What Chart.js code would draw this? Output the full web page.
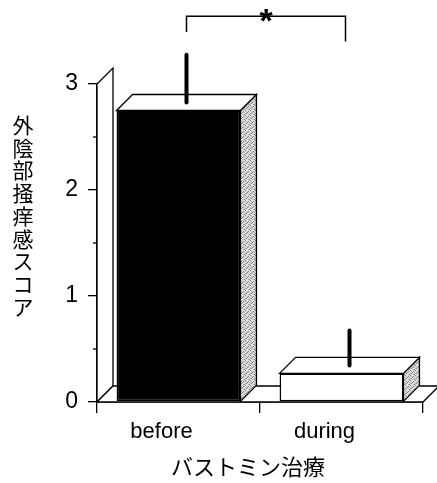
<!DOCTYPE html>
<html>
<head>
<meta charset="utf-8">
<script src="https://cdn.jsdelivr.net/npm/chart.js@4"></script>
<style>
  html, body { margin: 0; padding: 0; background: #fff; }
  #wrap { width: 437px; height: 483px; }
</style>
</head>
<body>
<div id="wrap"><canvas id="itchChart" width="437" height="483"></canvas></div>
<script>
const categories = ["before", "during"];
const scores = [2.75, 0.27];
const scoreErrors = [0.45, 0.33];
const yTicks = [0, 1, 2, 3];
const yMinorTicks = [0.5, 1.5, 2.5];
const yTitle = "外陰部掻痒感スコア";
const xTitle = "バストミン治療";
// significance bracket: leg ends and top, in score units
const bracketLegs = [3.49, 3.40];
const bracketTop = 3.64;
const bracketMark = "*";

const DEPTH_X = 16;
const DEPTH_Y = -16;
const LATIN = "'Liberation Sans', Arial, sans-serif";
const CJK = "'Noto Sans CJK JP', 'Noto Sans', sans-serif";

function stipple(ctx) {
  const c = document.createElement("canvas");
  c.width = 5; c.height = 5;
  const p = c.getContext("2d");
  p.fillStyle = "#e2e2e2";
  p.fillRect(0, 0, 5, 5);
  p.fillStyle = "#7a7a7a";
  [[0, 0], [3, 1], [1, 3], [4, 4], [2, 2]].forEach(([x, y]) => p.fillRect(x, y, 1, 1));
  p.fillStyle = "#b0b0b0";
  [[4, 2], [1, 1], [3, 4], [0, 3]].forEach(([x, y]) => p.fillRect(x, y, 1, 1));
  return ctx.createPattern(c, "repeat");
}

function poly(ctx, pts, fill) {
  ctx.beginPath();
  ctx.moveTo(pts[0][0], pts[0][1]);
  for (let i = 1; i < pts.length; i++) ctx.lineTo(pts[i][0], pts[i][1]);
  ctx.closePath();
  if (fill) { ctx.fillStyle = fill; ctx.fill(); }
  ctx.stroke();
}

const depthPlugin = {
  id: "depth",
  beforeDatasetsDraw(chart) {
    const { ctx, chartArea: a } = chart;
    ctx.save();
    ctx.strokeStyle = "#000";
    ctx.lineWidth = 1.3;
    // left wall and floor
    poly(ctx, [[a.left, a.top], [a.left + DEPTH_X, a.top + DEPTH_Y],
               [a.left + DEPTH_X, a.bottom + DEPTH_Y], [a.left, a.bottom]], "#fff");
    poly(ctx, [[a.left, a.bottom], [a.left + DEPTH_X, a.bottom + DEPTH_Y],
               [a.right + DEPTH_X, a.bottom + DEPTH_Y], [a.right, a.bottom]], "#fff");
    // side and top faces of each bar
    const pat = stipple(ctx);
    chart.getDatasetMeta(0).data.forEach(bar => {
      const l = bar.x - bar.width / 2, r = bar.x + bar.width / 2;
      const t = bar.y, b = bar.base;
      poly(ctx, [[r, t], [r + DEPTH_X, t + DEPTH_Y], [r + DEPTH_X, b + DEPTH_Y], [r, b]], pat);
      poly(ctx, [[l, t], [l + DEPTH_X, t + DEPTH_Y], [r + DEPTH_X, t + DEPTH_Y], [r, t]], "#fff");
    });
    ctx.restore();
  },
  afterDatasetsDraw(chart) {
    const { ctx, chartArea: a } = chart;
    const y = chart.scales.y, x = chart.scales.x;
    const bars = chart.getDatasetMeta(0).data;
    ctx.save();
    // error bars, at mid depth
    ctx.strokeStyle = "#000";
    ctx.lineWidth = 4;
    ctx.lineCap = "round";
    const errX = bars.map(b => b.x + DEPTH_X / 2);
    bars.forEach((bar, i) => {
      ctx.beginPath();
      ctx.moveTo(errX[i], y.getPixelForValue(scores[i]) + DEPTH_Y / 2);
      ctx.lineTo(errX[i], y.getPixelForValue(scores[i] + scoreErrors[i]) + DEPTH_Y / 2);
      ctx.stroke();
    });
    // minor ticks
    ctx.lineCap = "butt";
    ctx.lineWidth = 1.3;
    yMinorTicks.forEach(v => {
      const py = y.getPixelForValue(v);
      ctx.beginPath();
      ctx.moveTo(a.left - 4, py);
      ctx.lineTo(a.left, py);
      ctx.stroke();
    });
    // bracket
    const top = y.getPixelForValue(bracketTop);
    ctx.lineWidth = 1.5;
    ctx.beginPath();
    ctx.moveTo(errX[0], y.getPixelForValue(bracketLegs[0]));
    ctx.lineTo(errX[0], top);
    ctx.lineTo(errX[1] - 4, top);
    ctx.lineTo(errX[1] - 4, y.getPixelForValue(bracketLegs[1]));
    ctx.stroke();
    ctx.fillStyle = "#000";
    ctx.font = "bold 34px " + LATIN;
    ctx.textAlign = "center";
    ctx.textBaseline = "alphabetic";
    ctx.fillText(bracketMark, (errX[0] + errX[1] - 4) / 2, top + 16);
    // axis titles
    ctx.font = "21px " + CJK;
    ctx.textBaseline = "middle";
    [...yTitle].forEach((ch, i) => ctx.fillText(ch, 23, 125 + i * 22.75));
    ctx.font = "22px " + CJK;
    ctx.fillText(xTitle, (x.left + x.right) / 2 - 12, 467);
    ctx.restore();
  }
};

new Chart(document.getElementById("itchChart"), {
  type: "bar",
  data: {
    labels: categories,
    datasets: [{
      data: scores,
      backgroundColor: ["#000", "#fff"],
      borderColor: "#000",
      borderWidth: 1.6,
      borderSkipped: false,
      barPercentage: 0.76,
      categoryPercentage: 1,
    }],
  },
  options: {
    responsive: false,
    animation: false,
    events: [],
    layout: { padding: { top: 84, right: 14, left: 0, bottom: 0 } },
    plugins: { legend: { display: false }, tooltip: { enabled: false } },
    scales: {
      x: {
        offset: true,
        grid: { offset: true, drawOnChartArea: false, tickLength: 11, color: "#000", lineWidth: 1.3 },
        border: { display: true, color: "#000", width: 1.6 },
        ticks: { color: "#000", font: { family: LATIN, size: 22 }, padding: 6, labelOffset: -17, maxRotation: 0 },
        afterFit: s => { s.height = 81; },
      },
      y: {
        min: 0,
        max: 3,
        afterBuildTicks: s => { s.ticks = yTicks.map(v => ({ value: v })); },
        grid: { drawOnChartArea: false, tickLength: 9, color: "#000", lineWidth: 1.3 },
        border: { display: true, color: "#000", width: 1.6 },
        ticks: { color: "#000", font: { family: LATIN, size: 23 }, padding: 10 },
        afterFit: s => { s.width = 97; },
      },
    },
  },
  plugins: [depthPlugin],
});
</script>
</body>
</html>
